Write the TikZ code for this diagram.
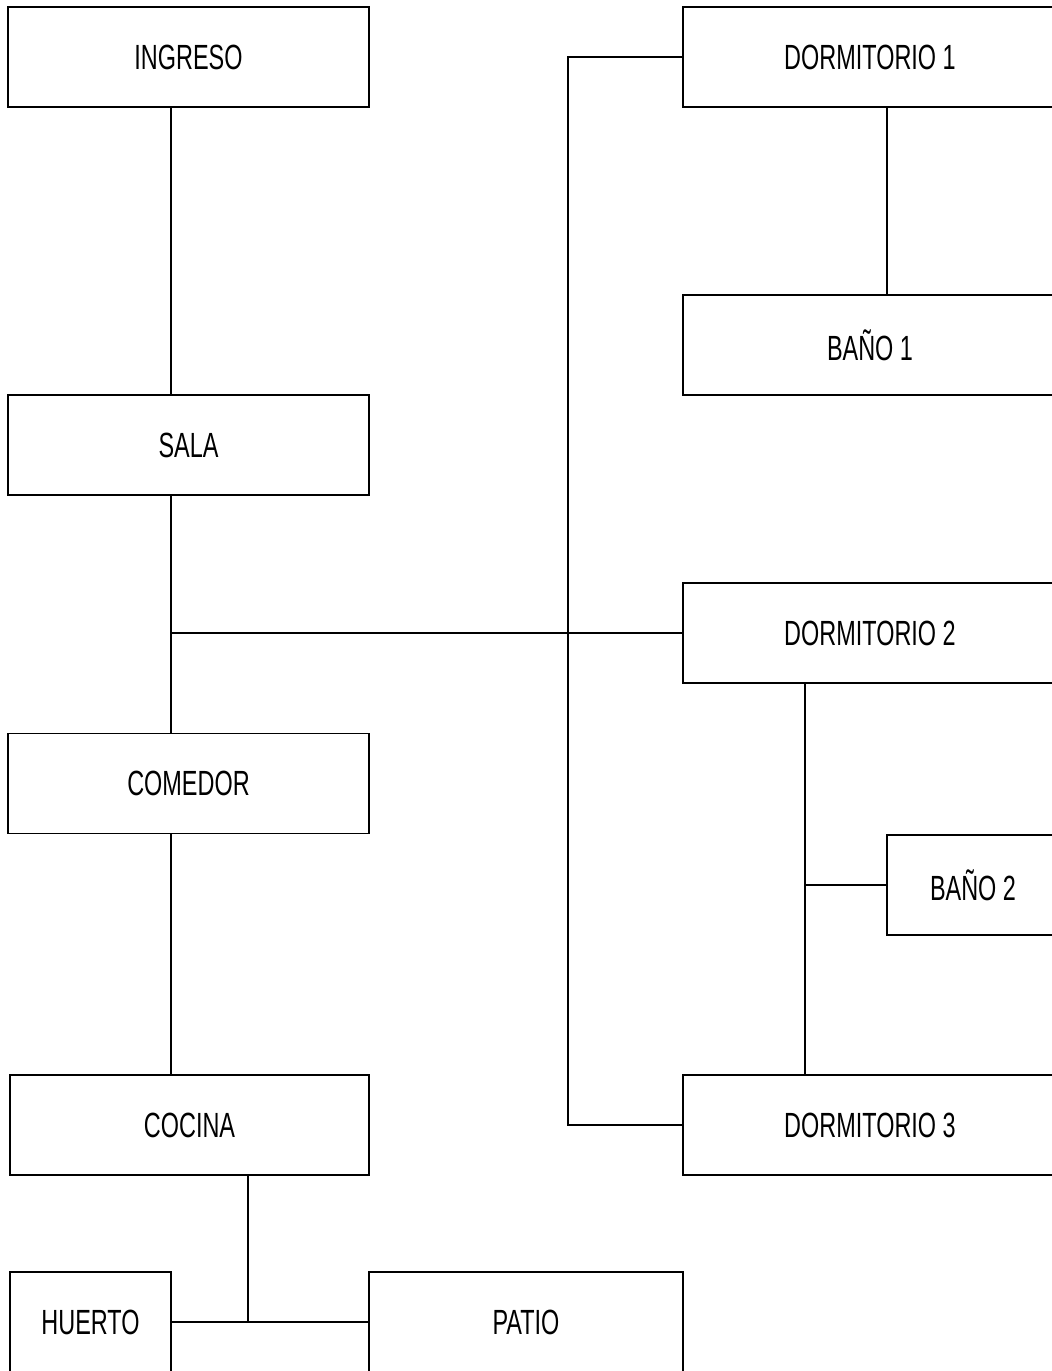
\documentclass[tikz,border=0pt]{standalone}
\usepackage{fontspec}
\setmainfont{Liberation Sans}[FakeStretch=0.67]
\begin{document}
\begin{tikzpicture}[x=1pt,y=-1pt,
  box/.style={draw=black, line width=1.6pt, fill=white, inner sep=0pt,
    minimum height=100pt, font=\fontsize{35}{40}\selectfont},
  link/.style={draw=black, line width=1.6pt}]
\clip (0,0) rectangle (1052,1371);
\useasboundingbox (0,0) rectangle (1052,1371);
% left column
\node[box, minimum width=361pt] (ingreso) at (188.5,57) {INGRESO};
\node[box, minimum width=361pt] (sala) at (188.5,445) {SALA};
\node[box, minimum width=361pt] (comedor) at (188.5,783.5) {COMEDOR};
\node[box, minimum width=359pt] (cocina) at (189.5,1125) {COCINA};
\node[box, minimum width=161pt] (huerto) at (90.5,1322) {HUERTO};
\node[box, minimum width=314pt] (patio) at (526,1322) {PATIO};
% right column
\node[box, minimum width=374pt] (d1) at (870,57) {DORMITORIO 1};
\node[box, minimum width=374pt] (b1) at (870,345) {BAÑO 1};
\node[box, minimum width=374pt] (d2) at (870,633) {DORMITORIO 2};
\node[box, minimum width=172pt] (b2) at (973,885) {BAÑO 2};
\node[box, minimum width=374pt] (d3) at (870,1125) {DORMITORIO 3};
% helper coordinates
\coordinate (spine) at (568,0);
\coordinate (lx) at ([xshift=-17.5pt]sala.south);
\coordinate (rx) at ([xshift=-65pt]d2.south);
\coordinate (kx) at ([xshift=58.5pt]cocina.south);
% connectors
\draw[link] ([xshift=-17.5pt]ingreso.south) -- ([xshift=-17.5pt]sala.north);
\draw[link] ([xshift=-17.5pt]sala.south) -- ([xshift=-17.5pt]comedor.north);
\draw[link] ([xshift=-17.5pt]comedor.south) -- (lx |- cocina.north);
\draw[link] (lx |- d2.west) -- (d2.west);
\draw[link] (d1.west) -- (d1.west -| spine) -- (d3.west -| spine) -- (d3.west);
\draw[link] ([xshift=17pt]d1.south) -- ([xshift=17pt]b1.north);
\draw[link] (rx) -- (rx |- d3.north);
\draw[link] (rx |- b2.west) -- (b2.west);
\draw[link] (kx) -- (kx |- huerto.east);
\draw[link] (huerto.east) -- (patio.west);
\end{tikzpicture}
\end{document}
